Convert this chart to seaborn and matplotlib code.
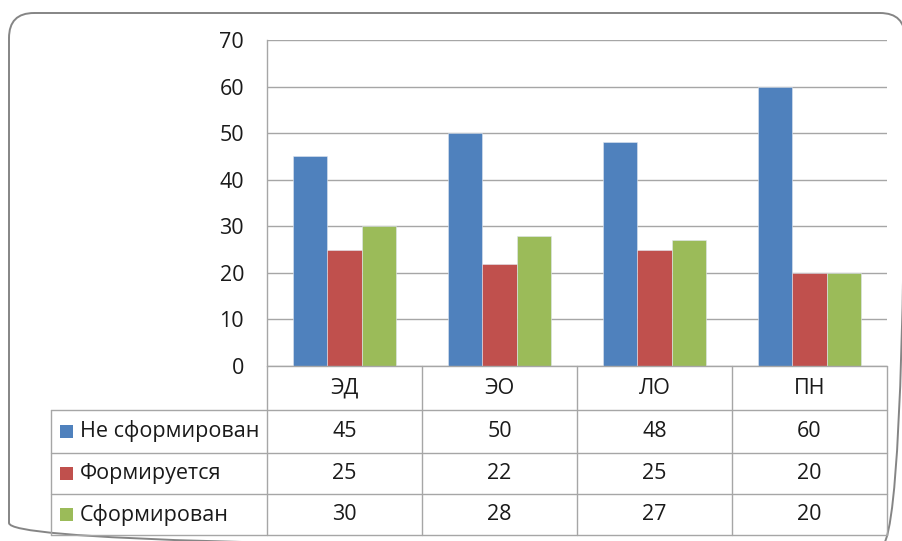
import matplotlib
matplotlib.use("Agg")
import matplotlib.pyplot as plt
from matplotlib.patches import FancyBboxPatch, Rectangle
import seaborn as sns
import pandas as pd

# --- data ---
categories = ["ЭД", "ЭО", "ЛО", "ПН"]
series_names = ["Не сформирован", "Формируется", "Сформирован"]
not_formed = [45, 50, 48, 60]
forming = [25, 22, 25, 20]
formed = [30, 28, 27, 20]
colors = ["#4F81BD", "#C0504D", "#9BBB59"]
y_ticks = [0, 10, 20, 30, 40, 50, 60, 70]

rows = []
for name, vals in zip(series_names, [not_formed, forming, formed]):
    for cat, v in zip(categories, vals):
        rows.append({"cat": cat, "series": name, "value": v})
df = pd.DataFrame(rows)

sns.set_theme(style="white")
plt.rcParams["font.family"] = ["Open Sans", "DejaVu Sans"]
FS = 15.5
TXT = "#1a1a1a"

W, H = 902, 541
fig = plt.figure(figsize=(W / 100, H / 100), dpi=100)

# plot area in pixel units
L, R, T, B = 267, 887, 40, 366
ax = fig.add_axes([L / W, 1 - B / H, (R - L) / W, (B - T) / H])
sns.barplot(data=df, x="cat", y="value", hue="series", hue_order=series_names,
            order=categories, palette=colors, saturation=1, width=0.67, ax=ax,
            edgecolor="#dfe6f0", linewidth=0.4, legend=False, zorder=3)
ax.set_ylim(0, 70)
ax.set_xlim(-0.5, len(categories) - 0.5)
ax.set_yticks(y_ticks)
ax.set_yticklabels([str(t) for t in y_ticks], fontsize=FS, color=TXT)
ax.set_xticks([])
ax.set_xlabel("")
ax.set_ylabel("")
ax.yaxis.grid(True, color="#a6a6a6", linewidth=1.0, zorder=0)
ax.set_axisbelow(True)
ax.tick_params(axis="y", length=0, pad=16.5)
for s in ["top", "right", "bottom"]:
    ax.spines[s].set_visible(False)
ax.spines["left"].set_color("#a6a6a6")
ax.spines["left"].set_linewidth(1.0)

# overlay in pixel coordinates for the frame and data table
ov = fig.add_axes([0, 0, 1, 1], zorder=5)
ov.set_xlim(0, W)
ov.set_ylim(H, 0)
ov.axis("off")
ov.patch.set_alpha(0)

# rounded chart-area border (runs slightly past the right and bottom edges)
frame = FancyBboxPatch((9, 13), 896, 535, boxstyle="round,pad=0,rounding_size=25",
                       fill=False, edgecolor="#858585", linewidth=1.4, clip_on=False)
ov.add_patch(frame)

grid_c = "#a6a6a6"
ncol = len(categories)
col_w = (R - L) / ncol
col_x = [L + i * col_w for i in range(ncol + 1)]
row_y = [B, 410, 453, 494, 535]
tbl_left = 51

# header row (category names)
ov.plot([L, R], [row_y[0], row_y[0]], color=grid_c, lw=1)
for x in col_x:
    ov.plot([x, x], [row_y[0], row_y[-1]], color=grid_c, lw=1)
ov.plot([tbl_left, tbl_left], [row_y[1], row_y[-1]], color=grid_c, lw=1)
for y in row_y[1:]:
    ov.plot([tbl_left, R], [y, y], color=grid_c, lw=1)

for i, cat in enumerate(categories):
    ov.text((col_x[i] + col_x[i + 1]) / 2, (row_y[0] + row_y[1]) / 2, cat,
            ha="center", va="center", fontsize=FS, color=TXT)

for r, (name, vals, c) in enumerate(zip(series_names, [not_formed, forming, formed], colors)):
    yc = (row_y[r + 1] + row_y[r + 2]) / 2
    ov.add_patch(Rectangle((60, yc - 6.5), 13, 13, facecolor=c, edgecolor="none"))
    ov.text(80, yc, name, ha="left", va="center", fontsize=FS, color=TXT)
    for i, v in enumerate(vals):
        ov.text((col_x[i] + col_x[i + 1]) / 2, yc, str(v),
                ha="center", va="center", fontsize=FS, color=TXT)

fig.savefig("out.png", dpi=100)
